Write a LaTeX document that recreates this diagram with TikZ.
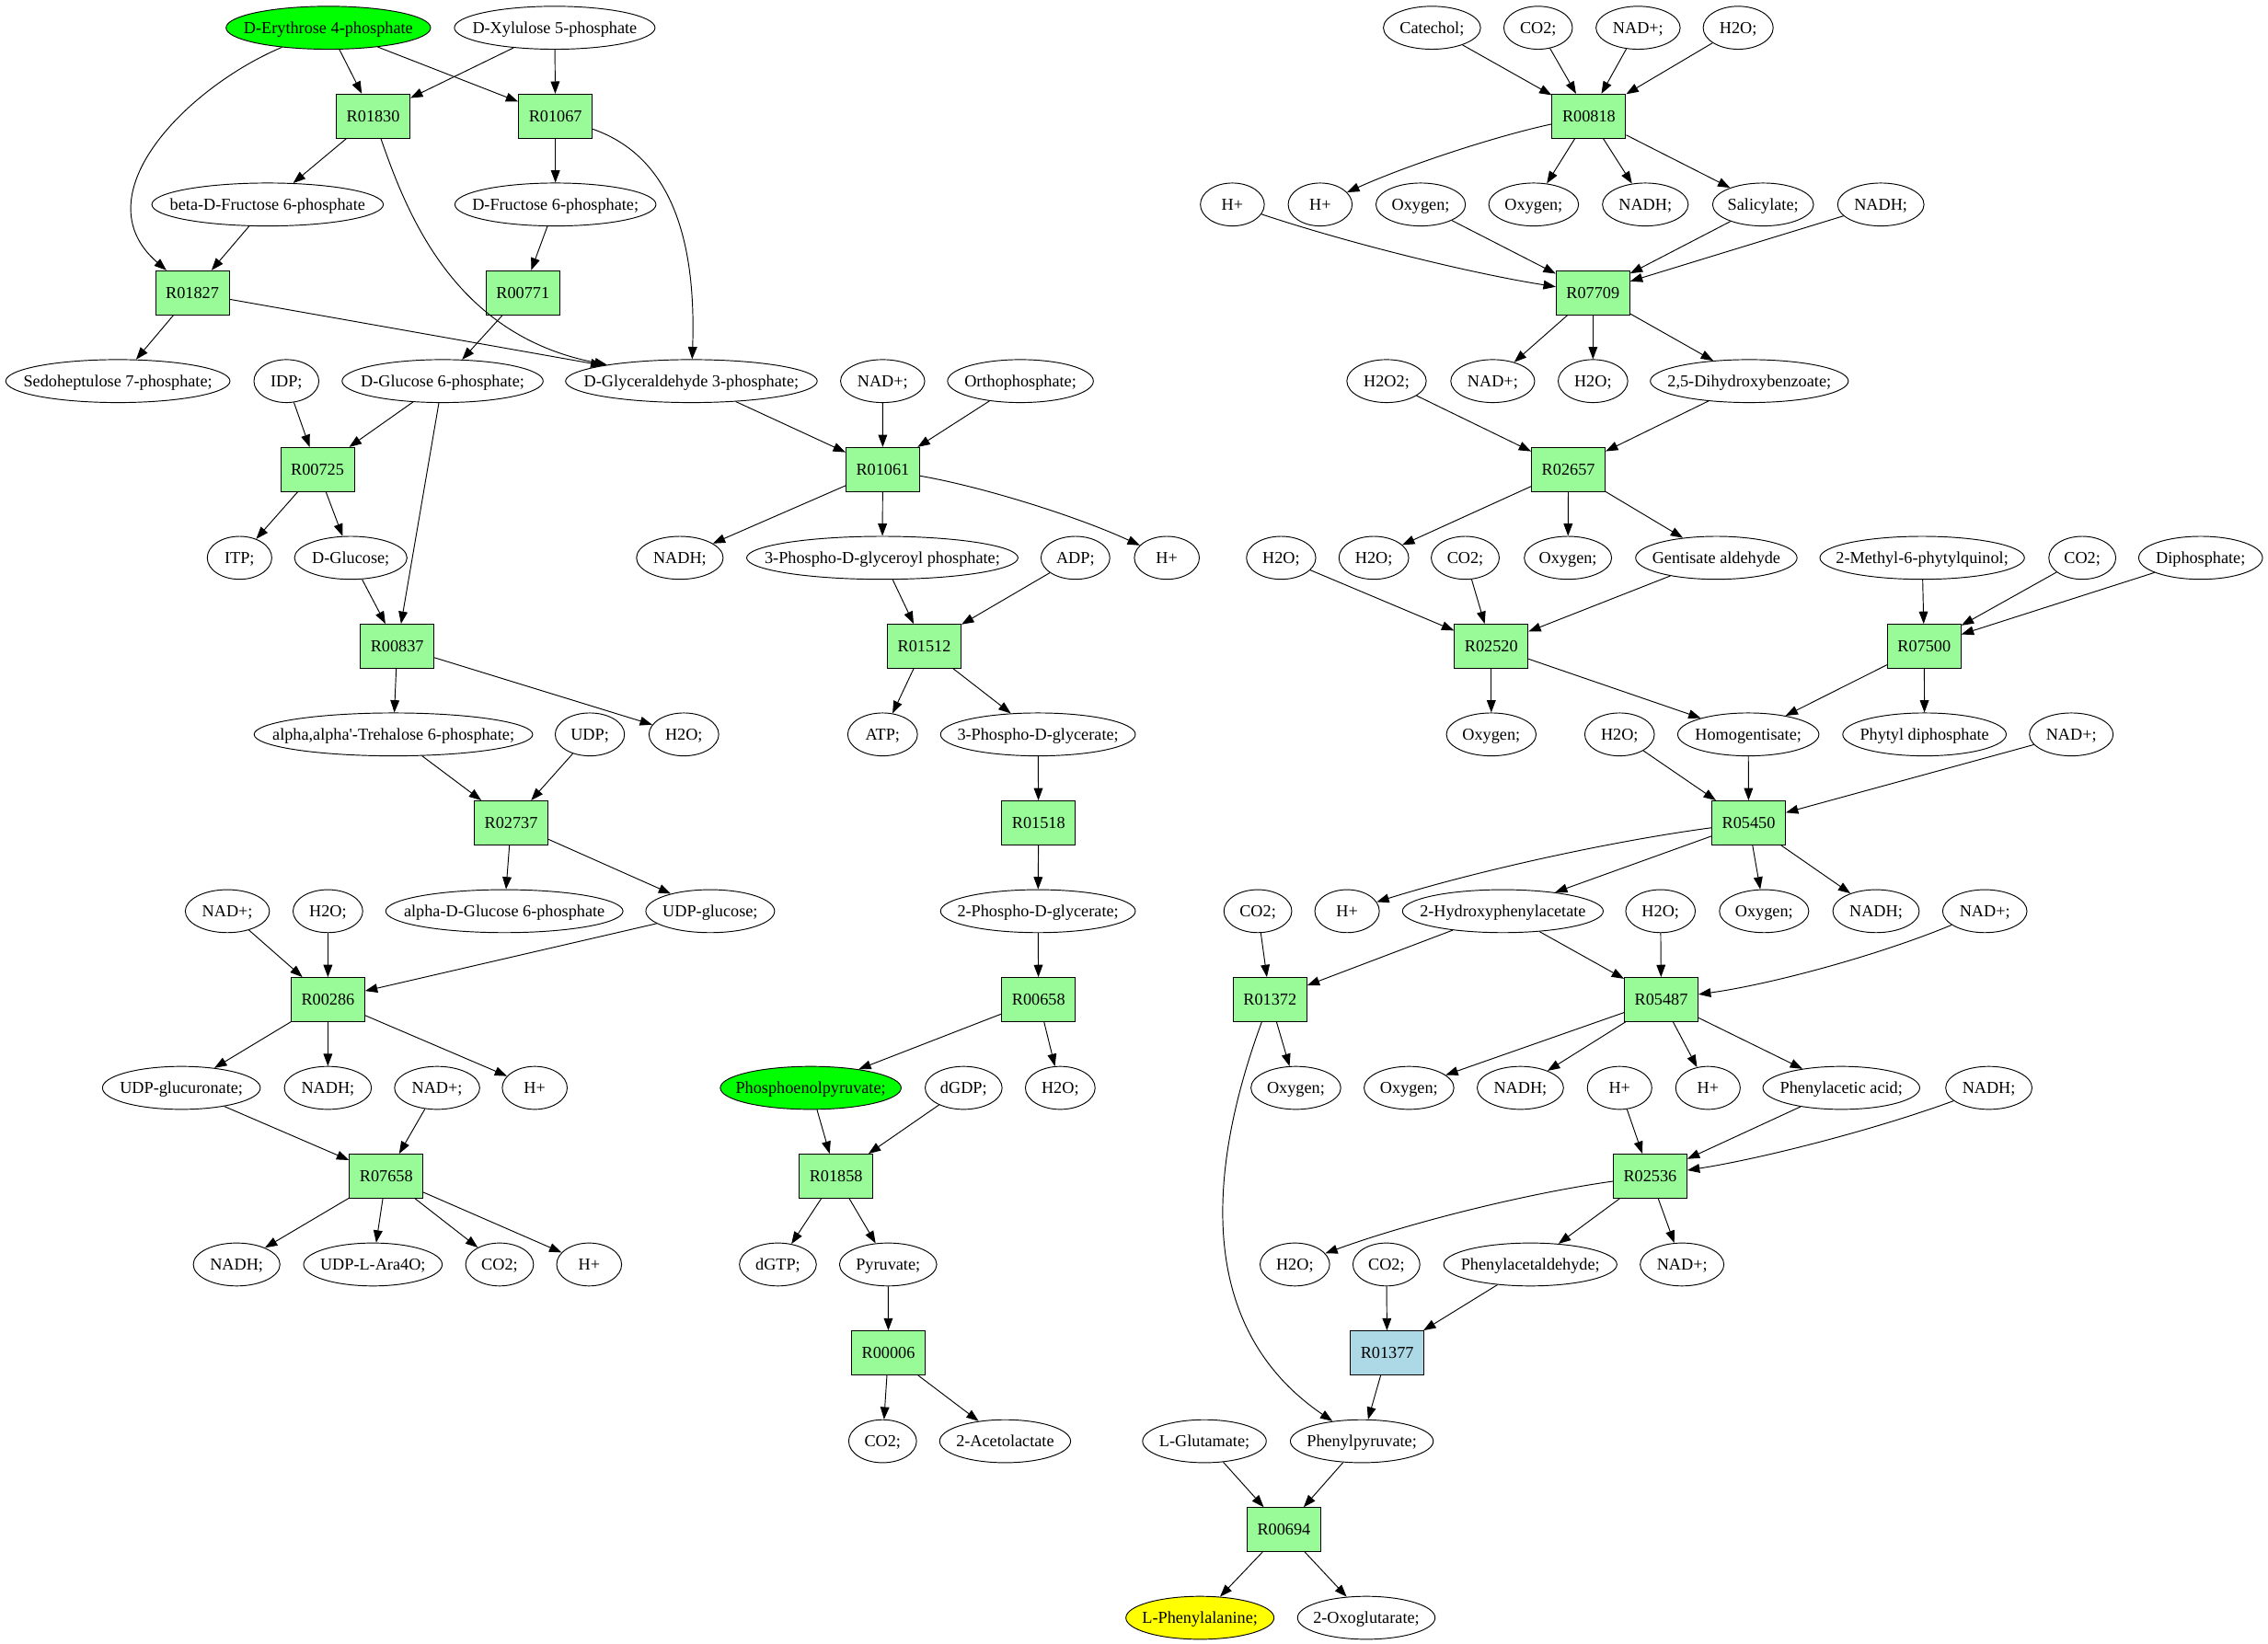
\documentclass[tikz,border=0pt]{standalone}
\usepackage{fontspec}
\setmainfont{Liberation Serif}
\usetikzlibrary{arrows.meta,shapes.geometric}
\definecolor{pgreen}{HTML}{98FB98}
\definecolor{lblue}{HTML}{ADD8E6}
\definecolor{vgreen}{HTML}{00FF00}
\definecolor{vyellow}{HTML}{FFFF00}
\newcommand\zlab[1]{\hbox to 0pt{\hss#1\hss}}
\newcommand\sq{{\addfontfeature{Ligatures=TeXOff}'}}
\tikzset{
  lab/.style={font=\fontsize{11.6}{13}\selectfont, text height=10.2pt, text depth=2.5pt},
  ell/.style={lab, ellipse, draw, line width=0.6pt, inner sep=0pt, minimum height=29.7pt, minimum width=#1pt},
  rx/.style={lab, rectangle, draw, fill=pgreen, line width=0.6pt, inner sep=0pt, minimum width=50.9pt, minimum height=30.4pt},
  arr/.style={-{Triangle[length=8.5pt,width=6.2pt]}, line width=0.6pt},
}
\begin{document}
\begin{tikzpicture}[x=1pt,y=-1pt]
\useasboundingbox (0,0) rectangle (1568,1136.7);
% row 0
\node[ell=141.4,fill=vgreen] (de4p) at (227,19.2) {\zlab{D-Erythrose 4-phosphate}};
\node[ell=138.7] (dx5p) at (383.5,19.2) {\zlab{D-Xylulose 5-phosphate}};
\node[ell=67.2] (cat) at (990,19.2) {\zlab{Catechol;}};
\node[ell=47.4] (co2a) at (1063.4,19.2) {\zlab{CO2;}};
\node[ell=58.2] (nadpa) at (1132.5,19.2) {\zlab{NAD+;}};
\node[ell=48.4] (h2oa) at (1201.7,19.2) {\zlab{H2O;}};
% row 1
\node[rx] (R01830) at (258,80.3) {R01830};
\node[rx] (R01067) at (384,80.3) {R01067};
\node[rx] (R00818) at (1098.5,80.3) {R00818};
% row 2
\node[ell=160] (bdf6p) at (185,141.4) {\zlab{beta-D-Fructose 6-phosphate}};
\node[ell=139] (df6p) at (384,141.4) {\zlab{D-Fructose 6-phosphate;}};
\node[ell=44.2] (hpa) at (852,141.4) {\zlab{H+}};
\node[ell=44.2] (hpb) at (912.7,141.4) {\zlab{H+}};
\node[ell=61.9] (oxa) at (982.2,141.4) {\zlab{Oxygen;}};
\node[ell=62.1] (oxb) at (1060.3,141.4) {\zlab{Oxygen;}};
\node[ell=59.3] (nadha) at (1137.5,141.4) {\zlab{NADH;}};
\node[ell=69.8] (sal) at (1218.9,141.4) {\zlab{Salicylate;}};
\node[ell=59.7] (nadhb) at (1300.3,141.4) {\zlab{NADH;}};
% row 3
\node[rx] (R01827) at (133,202.4) {R01827};
\node[rx] (R00771) at (361.5,202.4) {R00771};
\node[rx] (R07709) at (1101.3,202.4) {R07709};
% row 4
\node[ell=155] (s7p) at (81.5,263.5) {\zlab{Sedoheptulose 7-phosphate;}};
\node[ell=44.9] (idp) at (198,263.5) {\zlab{IDP;}};
\node[ell=139] (dg6p) at (306,263.5) {\zlab{D-Glucose 6-phosphate;}};
\node[ell=174] (dga3p) at (478,263.5) {\zlab{D-Glyceraldehyde 3-phosphate;}};
\node[ell=58.2] (nadpb) at (610.2,263.5) {\zlab{NAD+;}};
\node[ell=100.8] (ortho) at (705.5,263.5) {\zlab{Orthophosphate;}};
\node[ell=54.9] (h2o2) at (958.6,263.5) {\zlab{H2O2;}};
\node[ell=58] (nadpc) at (1032,263.5) {\zlab{NAD+;}};
\node[ell=48.1] (h2ob) at (1101.3,263.5) {\zlab{H2O;}};
\node[ell=136.9] (dhb) at (1209.4,263.5) {\zlab{2,5-Dihydroxybenzoate;}};
% row 5
\node[rx] (R00725) at (219.5,324.6) {R00725};
\node[rx] (R01061) at (610.3,324.6) {R01061};
\node[rx] (R02657) at (1084.3,324.6) {R02657};
% row 6
\node[ell=44.6] (itp) at (165.6,385.7) {\zlab{ITP;}};
\node[ell=77.8] (dglc) at (242.5,385.7) {\zlab{D-Glucose;}};
\node[ell=59.9] (nadhc) at (470,385.7) {\zlab{NADH;}};
\node[ell=187.6] (pdgp) at (610,385.7) {\zlab{3-Phospho-D-glyceroyl phosphate;}};
\node[ell=47.6] (adp) at (743.5,385.7) {\zlab{ADP;}};
\node[ell=44.9] (hpc) at (806.7,385.7) {\zlab{H+}};
\node[ell=47.9] (h2oc) at (885.7,385.7) {\zlab{H2O;}};
\node[ell=48.2] (h2od) at (949.8,385.7) {\zlab{H2O;}};
\node[ell=47] (co2b) at (1013,385.7) {\zlab{CO2;}};
\node[ell=60.4] (oxc) at (1084,385.7) {\zlab{Oxygen;}};
\node[ell=111.6] (gent) at (1186.6,385.7) {\zlab{Gentisate aldehyde}};
\node[ell=141.4] (mpq) at (1328.9,385.7) {\zlab{2-Methyl-6-phytylquinol;}};
\node[ell=46.3] (co2c) at (1439.6,385.7) {\zlab{CO2;}};
\node[ell=85.6] (diph) at (1521.4,385.7) {\zlab{Diphosphate;}};
% row 7
\node[rx] (R00837) at (274.6,446.8) {R00837};
\node[rx] (R01512) at (639,446.8) {R01512};
\node[rx] (R02520) at (1031,446.8) {R02520};
\node[rx] (R07500) at (1330.3,446.8) {R07500};
% row 8
\node[ell=192.6] (treh) at (272,507.8) {\zlab{alpha,alpha\sq-Trehalose 6-phosphate;}};
\node[ell=47.9] (udp) at (407.8,507.8) {\zlab{UDP;}};
\node[ell=48.2] (h2oe) at (472.8,507.8) {\zlab{H2O;}};
\node[ell=48.2] (atp) at (610.2,507.8) {\zlab{ATP;}};
\node[ell=134.7] (pdg3) at (717.6,507.8) {\zlab{3-Phospho-D-glycerate;}};
\node[ell=62] (oxd) at (1031,507.8) {\zlab{Oxygen;}};
\node[ell=48.1] (h2of) at (1119.7,507.8) {\zlab{H2O;}};
\node[ell=97.6] (hgen) at (1208.7,507.8) {\zlab{Homogentisate;}};
\node[ell=113] (phyt) at (1330.5,507.8) {\zlab{Phytyl diphosphate}};
\node[ell=57.9] (nadpd) at (1432,507.8) {\zlab{NAD+;}};
% row 9
\node[rx] (R02737) at (353.4,568.9) {R02737};
\node[rx] (R01518) at (718,568.9) {R01518};
\node[rx] (R05450) at (1208.9,568.9) {R05450};
% row 10
\node[ell=58.2] (nadpe) at (157.2,630) {\zlab{NAD+;}};
\node[ell=48.2] (h2og) at (226.7,630) {\zlab{H2O;}};
\node[ell=164] (adg6p) at (348.7,630) {\zlab{alpha-D-Glucose 6-phosphate}};
\node[ell=89] (udpg) at (491,630) {\zlab{UDP-glucose;}};
\node[ell=134.7] (pdg2) at (717.6,630) {\zlab{2-Phospho-D-glycerate;}};
\node[ell=46.9] (co2d) at (869.6,630) {\zlab{CO2;}};
\node[ell=44.6] (hpd) at (931.3,630) {\zlab{H+}};
\node[ell=138.8] (hpac) at (1039,630) {\zlab{2-Hydroxyphenylacetate}};
\node[ell=48.1] (h2oh) at (1148,630) {\zlab{H2O;}};
\node[ell=61.8] (oxe) at (1219.6,630) {\zlab{Oxygen;}};
\node[ell=59.7] (nadhd) at (1297,630) {\zlab{NADH;}};
\node[ell=58.3] (nadpf) at (1372.2,630) {\zlab{NAD+;}};
% row 11
\node[rx] (R00286) at (226.7,691.1) {R00286};
\node[rx] (R00658) at (718,691.1) {R00658};
\node[rx] (R01372) at (878,691.1) {R01372};
\node[rx] (R05487) at (1148.5,691.1) {R05487};
% row 12
\node[ell=109.1] (udpgu) at (125.4,752.2) {\zlab{UDP-glucuronate;}};
\node[ell=60.2] (nadhe) at (226.7,752.2) {\zlab{NADH;}};
\node[ell=58.9] (nadpg) at (302.2,752.2) {\zlab{NAD+;}};
\node[ell=44.9] (hpe) at (369.7,752.2) {\zlab{H+}};
\node[ell=125,fill=vgreen] (pep) at (560.5,752.2) {\zlab{Phosphoenolpyruvate;}};
\node[ell=53.2] (dgdp) at (666.2,752.2) {\zlab{dGDP;}};
\node[ell=48.2] (h2oi) at (733,752.2) {\zlab{H2O;}};
\node[ell=62.1] (oxf) at (895.9,752.2) {\zlab{Oxygen;}};
\node[ell=62.1] (oxg) at (974.1,752.2) {\zlab{Oxygen;}};
\node[ell=59.7] (nadhf) at (1051.1,752.2) {\zlab{NADH;}};
\node[ell=44.6] (hpf) at (1119.7,752.2) {\zlab{H+}};
\node[ell=44.6] (hpg) at (1180.8,752.2) {\zlab{H+}};
\node[ell=108.4] (paa) at (1273,752.2) {\zlab{Phenylacetic acid;}};
\node[ell=59.7] (nadhg) at (1375,752.2) {\zlab{NADH;}};
% row 13
\node[rx] (R07658) at (267,813.2) {R07658};
\node[rx] (R01858) at (578,813.2) {R01858};
\node[rx] (R02536) at (1140.8,813.2) {R02536};
% row 14
\node[ell=59.9] (nadhh) at (163.6,874.3) {\zlab{NADH;}};
\node[ell=95.8] (ara) at (257.8,874.3) {\zlab{UDP-L-Ara4O;}};
\node[ell=46.9] (co2e) at (345.4,874.3) {\zlab{CO2;}};
\node[ell=44.9] (hph) at (407.3,874.3) {\zlab{H+}};
\node[ell=53.2] (dgtp) at (537.8,874.3) {\zlab{dGTP;}};
\node[ell=67.2] (pyr) at (614,874.3) {\zlab{Pyruvate;}};
\node[ell=48.1] (h2oj) at (895.2,874.3) {\zlab{H2O;}};
\node[ell=46.3] (co2f) at (958.5,874.3) {\zlab{CO2;}};
\node[ell=119.7] (pald) at (1058,874.3) {\zlab{Phenylacetaldehyde;}};
\node[ell=57.9] (nadph) at (1162.9,874.3) {\zlab{NAD+;}};
% row 15
\node[rx] (R00006) at (614.2,935.4) {R00006};
\node[rx,fill=lblue] (R01377) at (959,935.4) {R01377};
% row 16
\node[ell=46.9] (co2g) at (610.2,996.5) {\zlab{CO2;}};
\node[ell=90.5] (acet) at (694.9,996.5) {\zlab{2-Acetolactate}};
\node[ell=85.5] (glu) at (832.7,996.5) {\zlab{L-Glutamate;}};
\node[ell=98.8] (ppyr) at (941.5,996.5) {\zlab{Phenylpyruvate;}};
% row 17
\node[rx] (R00694) at (887.6,1057.6) {R00694};
% row 18
\node[ell=102.4,fill=vyellow] (phe) at (829.6,1118.6) {\zlab{L-Phenylalanine;}};
\node[ell=95.1] (oxo) at (944.6,1118.6) {\zlab{2-Oxoglutarate;}};
% straight connectors
\foreach \a/\b in {de4p/R01830, de4p/R01067, dx5p/R01830, dx5p/R01067,
  R01830/bdf6p, R01067/df6p, bdf6p/R01827, df6p/R00771, R01827/s7p, R01827/dga3p,
  R00771/dg6p, idp/R00725, dg6p/R00725, dg6p/R00837, R00725/itp, R00725/dglc,
  dglc/R00837, R00837/treh, R00837/h2oe, treh/R02737, udp/R02737, R02737/adg6p,
  R02737/udpg, nadpe/R00286, h2og/R00286, udpg/R00286, R00286/udpgu, R00286/nadhe,
  R00286/hpe, udpgu/R07658, nadpg/R07658, R07658/nadhh, R07658/ara, R07658/co2e,
  R07658/hph, dga3p/R01061, nadpb/R01061, ortho/R01061, R01061/nadhc, R01061/pdgp,
  pdgp/R01512, adp/R01512, R01512/atp, R01512/pdg3, pdg3/R01518, R01518/pdg2,
  pdg2/R00658, R00658/pep, R00658/h2oi, pep/R01858, dgdp/R01858, R01858/dgtp,
  R01858/pyr, pyr/R00006, R00006/co2g, R00006/acet,
  cat/R00818, co2a/R00818, nadpa/R00818, h2oa/R00818, R00818/oxb, R00818/nadha,
  R00818/sal, oxa/R07709, sal/R07709, nadhb/R07709, R07709/nadpc, R07709/h2ob,
  R07709/dhb, h2o2/R02657, dhb/R02657, R02657/h2od, R02657/oxc, R02657/gent,
  h2oc/R02520, co2b/R02520, gent/R02520, R02520/oxd, R02520/hgen,
  mpq/R07500, co2c/R07500, diph/R07500, R07500/hgen, R07500/phyt,
  h2of/R05450, hgen/R05450, nadpd/R05450, R05450/hpac, R05450/oxe, R05450/nadhd,
  co2d/R01372, hpac/R01372, hpac/R05487, h2oh/R05487, R01372/oxf,
  R05487/oxg, R05487/nadhf, R05487/hpg, R05487/paa, hpf/R02536, paa/R02536,
  R02536/pald, R02536/nadph, co2f/R01377, pald/R01377, R01377/ppyr,
  glu/R00694, ppyr/R00694, R00694/phe, R00694/oxo}
  \draw[arr] (\a) -- (\b);
% curved connectors
\draw[arr] (de4p) .. controls (130,60) and (55,135) .. (R01827);
\draw[arr] (R01830) .. controls (282,150) and (315,232) .. (dga3p);
\draw[arr] (R01067) .. controls (455,105) and (482,150) .. (dga3p);
\draw[arr] (R01372) .. controls (838,800) and (822,915) .. (ppyr);
\draw[arr] (R00818) .. controls (1034.4,94) and (972.4,114.4) .. (hpb);
\draw[arr] (hpa) .. controls (933.4,168.5) and (1016.5,188.9) .. (R07709);
\draw[arr] (R01061) .. controls (678.5,336.4) and (743.9,356.7) .. (hpc);
\draw[arr] (R05450) .. controls (1114.7,581.5) and (1022.1,601.8) .. (hpd);
\draw[arr] (nadpf) .. controls (1300.2,660) and (1225.7,680.4) .. (R05487);
\draw[arr] (nadhg) .. controls (1298.9,780.2) and (1220.9,800.6) .. (R02536);
\draw[arr] (R02536) .. controls (1056.7,824.9) and (974.9,845.2) .. (h2oj);
\end{tikzpicture}
\end{document}
